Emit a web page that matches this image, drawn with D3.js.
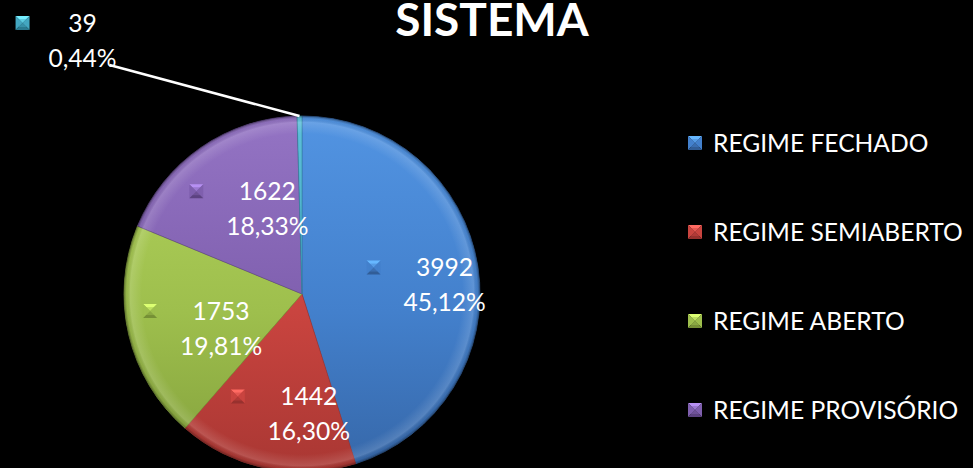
<!DOCTYPE html>
<html>
<head>
<meta charset="utf-8">
<script src="https://cdn.jsdelivr.net/npm/d3@7"></script>
<style>
  html, body { margin: 0; padding: 0; background: #000; }
  svg { display: block; font-family: Lato, "Liberation Sans", sans-serif; }
</style>
</head>
<body>
<div id="chart"></div>
<script>
// dados do gráfico
const categorias = ["REGIME FECHADO", "REGIME SEMIABERTO", "REGIME ABERTO", "REGIME PROVISÓRIO", "OUTROS"];
const valores = [3992, 1442, 1753, 1622, 39];
const titulo = "SISTEMA";

const width = 973, height = 468;
const cx = 302, cy = 294, R = 178;

// cores (claro / base / escuro)
const cores = [
  { light: "#5294e2", base: "#4380cc", dark: "#3667a8" },
  { light: "#dc5650", base: "#c9443f", dark: "#a93733" },
  { light: "#b2d35c", base: "#9ebf4d", dark: "#83a03c" },
  { light: "#9474c4", base: "#7f5fae", dark: "#664a90" },
  { light: "#5ec0da", base: "#43a7c1", dark: "#2f88a0" }
];

const locale = d3.formatLocale({ decimal: ",", thousands: ".", grouping: [3], currency: ["R$", ""] });
const fmtPct = locale.format(".2%");
const total = d3.sum(valores);

const svg = d3.select("#chart").append("svg")
  .attr("width", width)
  .attr("height", height);

svg.append("rect").attr("width", width).attr("height", height).attr("fill", "#000");

const defs = svg.append("defs");

// gradiente vertical por fatia (coordenadas relativas ao centro da pizza)
cores.forEach((c, i) => {
  const g = defs.append("linearGradient")
    .attr("id", "grad" + i)
    .attr("gradientUnits", "userSpaceOnUse")
    .attr("x1", 0).attr("y1", -R)
    .attr("x2", 0).attr("y2", R);
  g.append("stop").attr("offset", 0).attr("stop-color", c.light);
  g.append("stop").attr("offset", 0.55).attr("stop-color", c.base);
  g.append("stop").attr("offset", 1).attr("stop-color", c.dark);
});

// borda chanfrada
const bevel = defs.append("radialGradient")
  .attr("id", "bevel")
  .attr("gradientUnits", "userSpaceOnUse")
  .attr("cx", 0).attr("cy", 0).attr("r", R);
bevel.append("stop").attr("offset", 0.9).attr("stop-color", "#fff").attr("stop-opacity", 0);
bevel.append("stop").attr("offset", 0.965).attr("stop-color", "#fff").attr("stop-opacity", 0.14);
bevel.append("stop").attr("offset", 0.985).attr("stop-color", "#000").attr("stop-opacity", 0.05);
bevel.append("stop").attr("offset", 1).attr("stop-color", "#000").attr("stop-opacity", 0.35);

const pie = d3.pie().sort(null).value(d => d)(valores);
const arc = d3.arc().innerRadius(0).outerRadius(R);
const labelArc = d3.arc().innerRadius(R * 0.64).outerRadius(R * 0.64);

const pieG = svg.append("g").attr("transform", `translate(${cx},${cy})`);

pieG.selectAll("path.slice")
  .data(pie)
  .enter()
  .append("path")
  .attr("class", "slice")
  .attr("d", arc)
  .attr("fill", (d, i) => `url(#grad${i})`)
  .attr("stroke", (d, i) => cores[i].dark)
  .attr("stroke-width", 0.6);

pieG.append("circle")
  .attr("r", R)
  .attr("fill", "url(#bevel)");

// ícone chanfrado (quadrado com quatro triângulos)
function icone(g, i, s) {
  const c = cores[i];
  const h = s / 2;
  const tri = [
    { p: [[-h, -h], [h, -h], [0, 0]], f: d3.color(c.light).brighter(0.6) },
    { p: [[-h, -h], [-h, h], [0, 0]], f: c.base },
    { p: [[h, -h], [h, h], [0, 0]], f: c.base },
    { p: [[-h, h], [h, h], [0, 0]], f: d3.color(c.dark).darker(0.3) }
  ];
  g.selectAll("path.tri")
    .data(tri)
    .enter()
    .append("path")
    .attr("class", "tri")
    .attr("d", t => "M" + t.p.map(q => q.join(",")).join("L") + "Z")
    .attr("fill", t => t.f);
  g.append("rect")
    .attr("x", -h + 3).attr("y", -h + 3)
    .attr("width", s - 6).attr("height", s - 6)
    .attr("fill", c.base).attr("opacity", 0.5);
}

// rótulos de dados
const fs = 24.6;
pie.forEach((d, i) => {
  const pct = fmtPct(d.value / total);
  let tx, ty, ix;
  const small = (d.endAngle - d.startAngle) < 0.1;
  if (!small) {
    const [lx, ly] = labelArc.centroid(d);
    tx = cx + lx + 30;
    ty = cy + ly + 8;
    ix = tx - 71;
  } else {
    // rótulo externo com linha de chamada
    const mid = (d.startAngle + d.endAngle) / 2;
    const px = cx + Math.sin(mid) * R;
    const py = cy - Math.cos(mid) * R;
    const ax = px - 190, ay = py - 51;
    svg.append("line")
      .attr("x1", ax).attr("y1", ay)
      .attr("x2", px).attr("y2", py)
      .attr("stroke", "#fff").attr("stroke-width", 2.5);
    tx = ax - 27;
    ty = ay - 25;
    ix = tx - 60;
  }
  const g = svg.append("g").attr("class", "label");
  icone(g.append("g").attr("transform", `translate(${ix},${ty - 17})`), i, 14);
  g.append("text")
    .attr("x", tx).attr("y", ty - 17)
    .attr("dy", "0.35em")
    .attr("text-anchor", "middle")
    .attr("fill", "#fff")
    .attr("font-size", fs)
    .text(d.value);
  g.append("text")
    .attr("x", tx).attr("y", ty + 18)
    .attr("dy", "0.35em")
    .attr("text-anchor", "middle")
    .attr("fill", "#fff")
    .attr("font-size", fs)
    .text(pct);
});

// título
svg.append("text")
  .attr("x", 492).attr("y", 36)
  .attr("text-anchor", "middle")
  .attr("fill", "#fff")
  .attr("font-weight", "bold")
  .attr("font-size", 46)
  .text(titulo);

// legenda (só cabem os itens dentro da área visível)
const legendY0 = 143, legendStep = 89;
const legendItens = categorias.filter((d, i) => legendY0 + i * legendStep + 12 < height);
const legend = svg.append("g").attr("transform", `translate(695,${legendY0})`);
const items = legend.selectAll("g.item")
  .data(legendItens)
  .enter()
  .append("g")
  .attr("class", "item")
  .attr("transform", (d, i) => `translate(0,${i * legendStep})`);
items.each(function (d, i) { icone(d3.select(this), i, 14); });
items.append("text")
  .attr("x", 18)
  .attr("dy", "0.35em")
  .attr("fill", "#fff")
  .attr("font-size", fs)
  .text(d => d);
</script>
</body>
</html>
